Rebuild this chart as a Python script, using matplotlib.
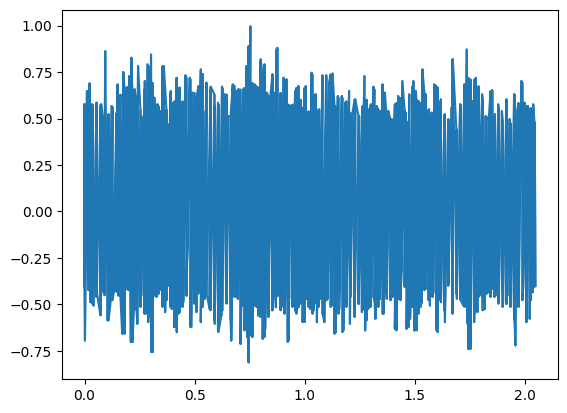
import numpy as np
import matplotlib
matplotlib.use('Agg')
import matplotlib.pyplot as plt

# spikes of the signal (upper side)
top_t = [0.000, 0.011, 0.023, 0.034, 0.056, 0.076, 0.086, 0.094, 0.109, 0.123,
         0.150, 0.161, 0.176, 0.191, 0.203, 0.213, 0.228, 0.243, 0.258, 0.274,
         0.286, 0.302, 0.317, 0.332, 0.347, 0.360, 0.378, 0.392, 0.403, 0.418,
         0.433, 0.448, 0.458, 0.478, 0.488, 0.508, 0.528, 0.539, 0.553, 0.573,
         0.591, 0.606, 0.624, 0.636, 0.651, 0.673, 0.688, 0.698, 0.720, 0.735,
         0.745, 0.753, 0.760, 0.773, 0.788, 0.800, 0.809, 0.817, 0.828, 0.843,
         0.853, 0.865, 0.875, 0.888, 0.903, 0.918, 0.933, 0.956, 0.971, 0.987,
         1.004, 1.019, 1.031, 1.050, 1.065, 1.080, 1.097, 1.110, 1.126, 1.138,
         1.150, 1.168, 1.183, 1.201, 1.213, 1.229, 1.247, 1.271, 1.288, 1.300,
         1.311, 1.326, 1.341, 1.353, 1.364, 1.379, 1.394, 1.409, 1.424, 1.443,
         1.458, 1.474, 1.493, 1.504, 1.516, 1.534, 1.549, 1.564, 1.576, 1.588,
         1.603, 1.618, 1.636, 1.651, 1.666, 1.672, 1.690, 1.705, 1.724, 1.735,
         1.742, 1.754, 1.764, 1.776, 1.790, 1.805, 1.821, 1.836, 1.851, 1.863,
         1.878, 1.895, 1.915, 1.930, 1.950, 1.965, 1.983, 1.998, 2.013, 2.028,
         2.037, 2.044]
top_v = [0.576, 0.648, 0.689, 0.576, 0.585, 0.576, 0.487, 0.862, 0.523, 0.567,
         0.683, 0.532, 0.750, 0.666, 0.728, 0.827, 0.657, 0.782, 0.513, 0.701,
         0.791, 0.844, 0.612, 0.576, 0.540, 0.782, 0.469, 0.648, 0.585, 0.719,
         0.666, 0.576, 0.732, 0.719, 0.639, 0.612, 0.764, 0.540, 0.693, 0.671,
         0.567, 0.585, 0.671, 0.630, 0.513, 0.683, 0.648, 0.657, 0.657, 0.782,
         0.889, 0.995, 0.674, 0.683, 0.666, 0.818, 0.693, 0.791, 0.639, 0.612,
         0.737, 0.639, 0.880, 0.630, 0.719, 0.710, 0.567, 0.648, 0.674, 0.558,
         0.674, 0.532, 0.746, 0.630, 0.549, 0.732, 0.732, 0.693, 0.742, 0.567,
         0.621, 0.621, 0.585, 0.648, 0.505, 0.603, 0.513, 0.728, 0.549, 0.576,
         0.671, 0.567, 0.540, 0.683, 0.639, 0.540, 0.496, 0.576, 0.621, 0.701,
         0.532, 0.630, 0.701, 0.648, 0.594, 0.764, 0.630, 0.549, 0.532, 0.683,
         0.666, 0.603, 0.523, 0.496, 0.558, 0.818, 0.440, 0.576, 0.683, 0.871,
         0.714, 0.549, 0.594, 0.719, 0.657, 0.630, 0.513, 0.513, 0.653, 0.523,
         0.576, 0.540, 0.603, 0.496, 0.630, 0.549, 0.701, 0.585, 0.567, 0.513,
         0.576, 0.478]

# spikes of the signal (lower side)
bot_t = [0.002, 0.016, 0.026, 0.041, 0.056, 0.071, 0.086, 0.105, 0.120, 0.138,
         0.153, 0.171, 0.191, 0.210, 0.225, 0.240, 0.258, 0.278, 0.289, 0.303,
         0.317, 0.335, 0.350, 0.366, 0.381, 0.396, 0.407, 0.419, 0.433, 0.448,
         0.463, 0.485, 0.508, 0.528, 0.546, 0.568, 0.591, 0.606, 0.621, 0.643,
         0.666, 0.684, 0.697, 0.709, 0.720, 0.730, 0.738, 0.745, 0.757, 0.773,
         0.788, 0.809, 0.820, 0.835, 0.858, 0.869, 0.880, 0.896, 0.911, 0.923,
         0.941, 0.956, 0.971, 0.990, 1.009, 1.024, 1.039, 1.055, 1.070, 1.089,
         1.104, 1.122, 1.141, 1.156, 1.175, 1.190, 1.205, 1.226, 1.244, 1.259,
         1.274, 1.288, 1.303, 1.321, 1.341, 1.357, 1.372, 1.391, 1.409, 1.424,
         1.437, 1.462, 1.478, 1.498, 1.516, 1.531, 1.549, 1.568, 1.584, 1.603,
         1.618, 1.636, 1.651, 1.669, 1.690, 1.705, 1.720, 1.739, 1.752, 1.769,
         1.784, 1.802, 1.818, 1.833, 1.851, 1.866, 1.881, 1.900, 1.915, 1.930,
         1.950, 1.956, 1.971, 1.991, 2.006, 2.021, 2.035, 2.047]
bot_v = [-0.694, -0.416, -0.488, -0.506, -0.434, -0.550, -0.434, -0.586, -0.470, -0.399,
         -0.452, -0.658, -0.416, -0.702, -0.506, -0.604, -0.452, -0.550, -0.595, -0.756,
         -0.452, -0.443, -0.425, -0.541, -0.399, -0.524, -0.622, -0.649, -0.541, -0.488,
         -0.452, -0.622, -0.541, -0.595, -0.470, -0.524, -0.604, -0.640, -0.560, -0.488,
         -0.694, -0.443, -0.470, -0.711, -0.506, -0.631, -0.675, -0.812, -0.667, -0.506,
         -0.560, -0.685, -0.631, -0.560, -0.470, -0.515, -0.452, -0.506, -0.470, -0.702,
         -0.470, -0.533, -0.515, -0.595, -0.470, -0.524, -0.533, -0.595, -0.470, -0.595,
         -0.470, -0.506, -0.649, -0.524, -0.640, -0.488, -0.604, -0.524, -0.497, -0.541,
         -0.640, -0.524, -0.461, -0.577, -0.470, -0.550, -0.470, -0.399, -0.631, -0.470,
         -0.381, -0.631, -0.577, -0.640, -0.550, -0.488, -0.416, -0.506, -0.434, -0.649,
         -0.488, -0.595, -0.399, -0.541, -0.470, -0.470, -0.506, -0.604, -0.738, -0.595,
         -0.541, -0.452, -0.524, -0.434, -0.416, -0.452, -0.470, -0.488, -0.497, -0.452,
         -0.560, -0.720, -0.488, -0.416, -0.595, -0.577, -0.434, -0.400]

# band edge read column by column (upper and lower), fills in the dense part
edge_t = [0.000, 0.018, 0.036, 0.054, 0.073, 0.091, 0.109, 0.127, 0.145, 0.163,
          0.182, 0.200, 0.218, 0.236, 0.254, 0.272, 0.291, 0.309, 0.327,
          0.336, 0.354, 0.372, 0.390, 0.408, 0.427, 0.445, 0.463, 0.481, 0.499,
          0.517, 0.536, 0.554, 0.572, 0.590, 0.608, 0.626, 0.645, 0.663, 0.681,
          0.690, 0.708, 0.726, 0.744, 0.762, 0.781, 0.799, 0.817, 0.835, 0.853,
          0.871, 0.890, 0.908, 0.926, 0.944, 0.962, 0.980, 0.999, 1.017, 1.035,
          1.044, 1.062, 1.080, 1.098, 1.117, 1.135, 1.153, 1.171, 1.189, 1.207,
          1.226, 1.244, 1.262, 1.280, 1.298, 1.316, 1.334, 1.353, 1.371, 1.389,
          1.398, 1.416, 1.434, 1.453, 1.471, 1.489, 1.507, 1.525, 1.543, 1.562,
          1.580, 1.598, 1.616, 1.634, 1.652, 1.671, 1.689, 1.707, 1.725, 1.743,
          1.752, 1.770, 1.789, 1.807, 1.825, 1.843, 1.861, 1.879, 1.898, 1.916,
          1.934, 1.952, 1.970, 1.988, 2.007, 2.025, 2.043]
edge_hi = [0.574, 0.646, 0.574, 0.583, 0.574, 0.511, 0.520, 0.561, 0.529, 0.628,
           0.655, 0.673, 0.583, 0.592, 0.547, 0.655, 0.781, 0.691, 0.574,
           0.565, 0.780, 0.547, 0.637, 0.592, 0.664, 0.592, 0.718, 0.709, 0.637,
           0.673, 0.740, 0.682, 0.664, 0.628, 0.574, 0.664, 0.628, 0.511, 0.673,
           0.637, 0.655, 0.664, 0.871, 0.691, 0.673, 0.808, 0.781, 0.619, 0.736,
           0.871, 0.637, 0.709, 0.574, 0.574, 0.664, 0.601, 0.664, 0.538, 0.736,
           0.628, 0.547, 0.727, 0.718, 0.736, 0.565, 0.610, 0.610, 0.592, 0.529,
           0.601, 0.511, 0.565, 0.601, 0.565, 0.655, 0.547, 0.682, 0.511, 0.493,
           0.493, 0.583, 0.610, 0.547, 0.484, 0.673, 0.601, 0.583, 0.637, 0.547,
           0.529, 0.673, 0.592, 0.520, 0.493, 0.817, 0.421, 0.574, 0.682, 0.718,
           0.709, 0.709, 0.673, 0.601, 0.493, 0.646, 0.511, 0.556, 0.493, 0.592,
           0.475, 0.628, 0.583, 0.691, 0.565, 0.556, 0.475]
edge_lo = [-0.405, -0.423, -0.495, -0.459, -0.558, -0.450, -0.585, -0.477, -0.432, -0.459,
           -0.657, -0.423, -0.702, -0.531, -0.513, -0.549, -0.567, -0.756, -0.459,
           -0.441, -0.513, -0.477, -0.513, -0.621, -0.549, -0.513, -0.441, -0.621, -0.495,
           -0.441, -0.513, -0.441, -0.531, -0.585, -0.648, -0.531, -0.495, -0.585, -0.459,
           -0.459, -0.711, -0.639, -0.801, -0.675, -0.513, -0.567, -0.675, -0.567, -0.531,
           -0.459, -0.531, -0.549, -0.693, -0.513, -0.549, -0.495, -0.594, -0.513, -0.549,
           -0.495, -0.513, -0.549, -0.477, -0.513, -0.657, -0.549, -0.648, -0.513, -0.459,
           -0.567, -0.459, -0.531, -0.585, -0.513, -0.477, -0.513, -0.549, -0.441, -0.477,
           -0.459, -0.639, -0.477, -0.405, -0.621, -0.513, -0.639, -0.513, -0.423, -0.477,
           -0.459, -0.639, -0.477, -0.531, -0.387, -0.549, -0.441, -0.477, -0.513, -0.740,
           -0.720, -0.549, -0.459, -0.531, -0.441, -0.459, -0.459, -0.495, -0.513, -0.495,
           -0.513, -0.585, -0.513, -0.477, -0.549, -0.477, -0.405]


def main():
    # upper and lower readings, each in time order
    ut = np.array(top_t + edge_t)
    uv = np.array(top_v + edge_hi)
    lt = np.array(bot_t + edge_t)
    lv = np.array(bot_v + edge_lo)
    iu = np.argsort(ut, kind='stable')
    il = np.argsort(lt, kind='stable')
    t = np.concatenate([ut[iu], lt[il]])
    v = np.concatenate([uv[iu], lv[il]])

    # the signal swings from the upper side to the lower side and back,
    # so take the readings in turn from each side ...
    rank = np.concatenate([np.arange(len(ut)) / len(ut),
                           (np.arange(len(lt)) + 0.5) / len(lt)])
    swing = np.argsort(rank, kind='stable')
    # ... and also strictly by time, which closes the gaps left between swings
    by_time = np.argsort(t, kind='stable')

    plt.figure(figsize=(6.4, 4.8))
    plt.plot(t[swing], v[swing], color='C0')
    plt.plot(t[by_time], v[by_time], color='C0')
    plt.savefig('out.png', dpi=100, bbox_inches='tight')


if __name__ == "__main__":
    main()
